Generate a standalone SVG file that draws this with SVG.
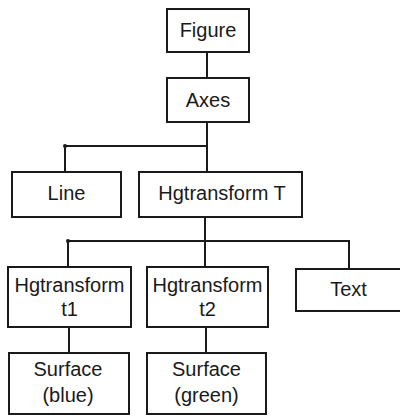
<svg xmlns="http://www.w3.org/2000/svg" width="400" height="416" viewBox="0 0 400 416">
<style>
rect{fill:#fff;stroke:#1a1a1a;stroke-width:2}
text{font-family:"Liberation Sans",Arial,sans-serif;font-size:20px;fill:#1a1a1a;text-anchor:middle}
.c{fill:none;stroke:#1a1a1a;stroke-width:2}
.d{fill:#1a1a1a}
</style>
<rect x="0" y="0" width="400" height="416" style="fill:#fff;stroke:none"/>
<g id="connectors">
<path class="c" d="M207,52V78"/>
<path class="c" d="M207,122V172M207,146H65V172"/>
<circle class="d" cx="65" cy="146" r="2"/>
<path class="c" d="M205,217V267M68,241H349V269M68,241V267"/>
<circle class="d" cx="68" cy="241" r="2"/>
<path class="c" d="M69,327V353"/>
<path class="c" d="M206,327V353"/>
</g>
<g id="figure"><rect x="167" y="9" width="82" height="43"/><text x="208" y="37">Figure</text></g>
<g id="axes"><rect x="167" y="78" width="82" height="44"/><text x="208" y="107">Axes</text></g>
<g id="line"><rect x="12" y="172" width="109" height="45"/><text x="66.5" y="200">Line</text></g>
<g id="hgtransformT"><rect x="139" y="172" width="163" height="45"/><text x="222" y="200">Hgtransform T</text></g>
<g id="hgtransformt1"><rect x="8" y="267" width="123" height="60"/><text x="69.5" y="292">Hgtransform</text><text x="69.5" y="316">t1</text></g>
<g id="hgtransformt2"><rect x="147" y="267" width="121" height="60"/><text x="207.5" y="292">Hgtransform</text><text x="207.5" y="316">t2</text></g>
<g id="text"><rect x="296" y="269" width="105" height="42"/><text x="348.5" y="296">Text</text></g>
<g id="surfaceBlue"><rect x="9" y="353" width="120" height="61"/><text x="68" y="376">Surface</text><text x="68" y="402">(blue)</text></g>
<g id="surfaceGreen"><rect x="147" y="353" width="119" height="61"/><text x="206.5" y="376">Surface</text><text x="206.5" y="402">(green)</text></g>
</svg>
